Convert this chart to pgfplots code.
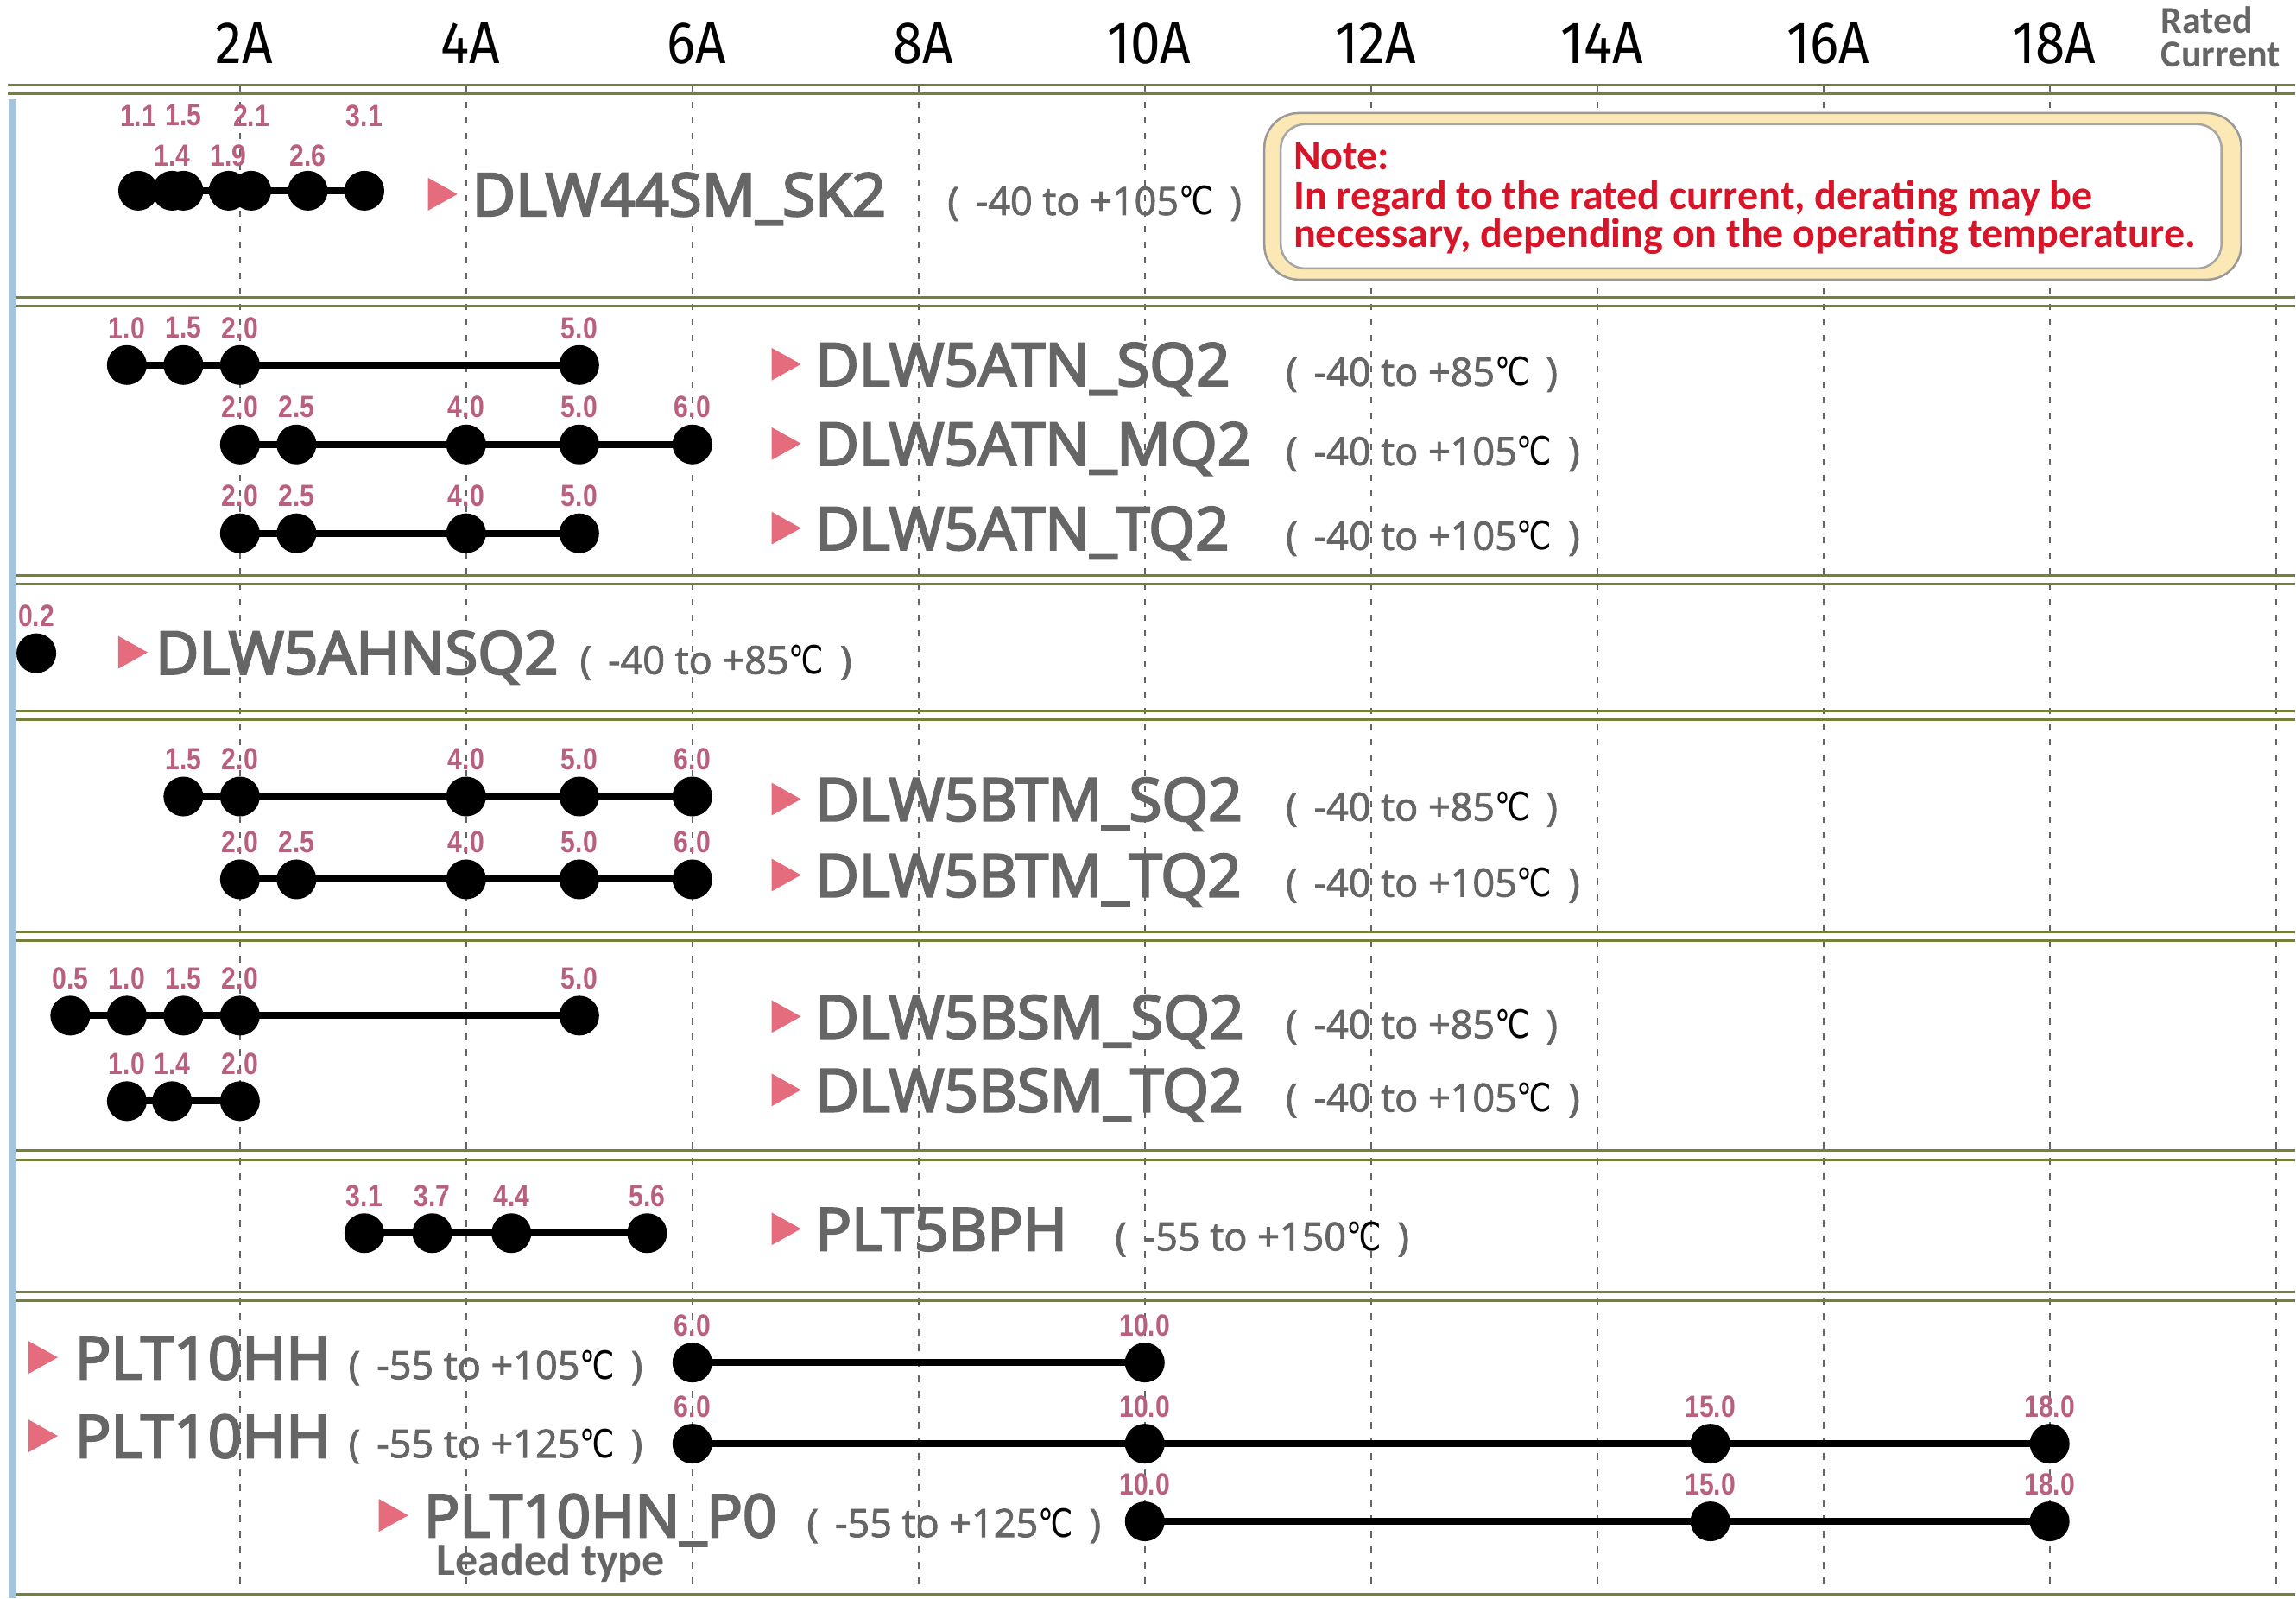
\documentclass[border=0pt]{standalone}
\usepackage{pgfplots}
\pgfplotsset{compat=1.18}
\usepackage{graphicx}
\usepackage{fontspec}
\setmainfont{Open Sans}
\newfontfamily\namefont{Open Sans}[FakeBold=3.5, FakeStretch=1.01]
\newfontfamily\tempfont{Open Sans}[FakeBold=2]
\newfontfamily\lblfont{Liberation Sans}[FakeStretch=0.85]
\newfontfamily\tickfont{Fira Sans}[FakeStretch=0.9]
\newfontfamily\notefont{Carlito}
\newfontfamily\dejavu{DejaVu Sans}

\definecolor{namec}{RGB}{102,102,102}
\definecolor{lblc}{RGB}{184,96,126}
\definecolor{tric}{RGB}{229,108,125}
\definecolor{notered}{RGB}{215,20,40}
\definecolor{linegreen}{RGB}{118,128,58}
\definecolor{barblue}{RGB}{167,196,218}
\definecolor{gridc}{RGB}{100,100,100}
\definecolor{notefill}{RGB}{252,232,180}

% 1 px of the reference = 0.1pt
\newcommand\degc{{\color{black}\scalebox{0.8}[1]{\dejavu ℃}}}
\newcommand\tempr[3]{\node[anchor=base west,inner sep=0pt,text=namec,
  font=\tempfont\fontsize{4.5pt}{5pt}\selectfont] at (axis cs:#1,#2) {(\, #3\degc\, )};}
\newcommand\partlbl[4]{%
  \fill[tric] (axis cs:#1,#3-44) -- (axis cs:#1+0.26,#3-25) -- (axis cs:#1,#3-6) -- cycle;
  \node[anchor=base west,inner sep=0pt,text=namec,
    font=\namefont\fontsize{6.85pt}{7pt}\selectfont] at (axis cs:#2,#3) {#4};}

\begin{document}
\begin{tikzpicture}
\begin{axis}[
  width=265.9pt, height=185.2pt, scale only axis,
  xmin=-0.1213, xmax=20.167, ymin=0, ymax=1852, y dir=reverse,
  hide axis, clip=false,
  /pgf/number format/assume math mode=true,
  every node near coord/.append style={font=\lblfont\bfseries\fontsize{3.55pt}{4pt}\selectfont,
    text=lblc, anchor=center, inner sep=0pt},
  row/.style={black, line width=0.8pt, mark=*, mark size=1.9pt,
    mark options={fill=black, solid}, point meta=x,
    nodes near coords={\pgfmathprintnumber[fixed,fixed zerofill,precision=1]{\pgfplotspointmeta}},
    nodes near coords style={yshift=4.3pt}},
  lbls/.style={draw=none, mark=none, point meta=x,
    nodes near coords={\pgfmathprintnumber[fixed,fixed zerofill,precision=1]{\pgfplotspointmeta}},
    nodes near coords style={yshift=#1}},
]
\path (axis cs:-0.1213,0) rectangle (axis cs:20.167,1852);

% blue bar and grid
\fill[barblue] (axis cs:-0.048,115) rectangle (axis cs:0.024,1852);
\pgfplotsinvokeforeach{2,4,...,20}{
  \draw[gridc, line width=0.2pt, dash pattern=on 0.75pt off 1.05pt] (axis cs:#1,100) -- (axis cs:#1,1847);
}
% section rules
\draw[linegreen, line width=0.3pt] (axis cs:-0.053,99) -- (axis cs:20.167,99);
\draw[linegreen, line width=0.3pt] (axis cs:-0.053,109) -- (axis cs:20.167,109);
\pgfplotsinvokeforeach{345,355,667,677,824,834,1080,1090,1333,1344,1497,1507,1847}{
  \draw[linegreen, line width=0.3pt] (axis cs:0.024,#1) -- (axis cs:20.167,#1);
}

% tick labels
\pgfplotsinvokeforeach{2,4,...,18}{
  \node[anchor=base, inner sep=0pt, font=\tickfont\fontsize{6.9pt}{7pt}\selectfont] at (axis cs:#1+0.04,74) {#1A};
}
\node[anchor=base west, inner sep=0pt, text=namec, font=\notefont\bfseries\fontsize{4.4pt}{5pt}\selectfont] at (axis cs:18.97,38) {Rated};
\node[anchor=base west, inner sep=0pt, text=namec, font=\notefont\bfseries\fontsize{4.4pt}{5pt}\selectfont] at (axis cs:18.97,78) {Current};

% note box
\draw[gray!80, line width=0.25pt, fill=notefill, rounded corners=4pt] (axis cs:11.057,131) rectangle (axis cs:19.694,324);
\draw[gray!70, line width=0.25pt, fill=white, rounded corners=2.8pt] (axis cs:11.202,144) rectangle (axis cs:19.519,311);
\node[anchor=base west, inner sep=0pt, text=notered, font=\notefont\bfseries\fontsize{4.8pt}{5pt}\selectfont] at (axis cs:11.301,197) {Note:};
\node[anchor=base west, inner sep=0pt, text=notered, font=\notefont\bfseries\fontsize{4.8pt}{5pt}\selectfont] at (axis cs:11.301,243) {In regard to the rated current, derating may be};
\node[anchor=base west, inner sep=0pt, text=notered, font=\notefont\bfseries\fontsize{4.8pt}{5pt}\selectfont] at (axis cs:11.301,287) {necessary, depending on the operating temperature.};

% DLW44SM_SK2
\addplot[black, line width=0.8pt, mark=*, mark size=1.9pt, mark options={fill=black}]
  coordinates {(1.1,221) (1.4,221) (1.5,221) (1.9,221) (2.1,221) (2.6,221) (3.1,221)};
\addplot[lbls=8.7pt] coordinates {(1.1,221) (1.5,221) (2.1,221) (3.1,221)};
\addplot[lbls=4.1pt] coordinates {(1.4,221) (1.9,221) (2.6,221)};
% DLW5ATN
\addplot[row] coordinates {(1.0,423) (1.5,423) (2.0,423) (5.0,423)};
\addplot[row] coordinates {(2.0,515) (2.5,515) (4.0,515) (5.0,515) (6.0,515)};
\addplot[row] coordinates {(2.0,618) (2.5,618) (4.0,618) (5.0,618)};
% DLW5AHNSQ2
\addplot[row] coordinates {(0.2,757)};
% DLW5BTM
\addplot[row] coordinates {(1.5,923) (2.0,923) (4.0,923) (5.0,923) (6.0,923)};
\addplot[row] coordinates {(2.0,1019) (2.5,1019) (4.0,1019) (5.0,1019) (6.0,1019)};
% DLW5BSM
\addplot[row] coordinates {(0.5,1177) (1.0,1177) (1.5,1177) (2.0,1177) (5.0,1177)};
\addplot[row] coordinates {(1.0,1276) (1.4,1276) (2.0,1276)};
% PLT5BPH
\addplot[row] coordinates {(3.1,1429) (3.7,1429) (4.4,1429) (5.6,1429)};
% PLT10HH / PLT10HN_P0
\addplot[row] coordinates {(6.0,1579) (10.0,1579)};
\addplot[row] coordinates {(6.0,1673) (10.0,1673) (15.0,1673) (18.0,1673)};
\addplot[row] coordinates {(10.0,1763) (15.0,1763) (18.0,1763)};

% part names and temperature ranges
\partlbl{3.663}{4.037}{250}{DLW44SM\_SK2}
\tempr{8.241}{249}{-40 to +105}
\partlbl{6.700}{7.074}{447}{DLW5ATN\_SQ2}
\tempr{11.232}{447}{-40 to +85}
\partlbl{6.700}{7.074}{539}{DLW5ATN\_MQ2}
\tempr{11.232}{539}{-40 to +105}
\partlbl{6.700}{7.074}{637}{DLW5ATN\_TQ2}
\tempr{11.232}{637}{-40 to +105}
\partlbl{0.924}{1.237}{781}{DLW5AHNSQ2}
\tempr{4.991}{781}{-40 to +85}
\partlbl{6.700}{7.074}{951}{DLW5BTM\_SQ2}
\tempr{11.232}{951}{-40 to +85}
\partlbl{6.700}{7.074}{1039}{DLW5BTM\_TQ2}
\tempr{11.232}{1039}{-40 to +105}
\partlbl{6.700}{7.074}{1203}{DLW5BSM\_SQ2}
\tempr{11.232}{1203}{-40 to +85}
\partlbl{6.700}{7.074}{1288}{DLW5BSM\_TQ2}
\tempr{11.232}{1288}{-40 to +105}
\partlbl{6.700}{7.074}{1449}{PLT5BPH}
\tempr{9.722}{1449}{-55 to +150}
\partlbl{0.130}{0.527}{1598}{PLT10HH}
\tempr{2.946}{1598}{-55 to +105}
\partlbl{0.130}{0.527}{1689}{PLT10HH}
\tempr{2.946}{1689}{-55 to +125}
\partlbl{3.228}{3.610}{1781}{PLT10HN\_P0}
\tempr{6.998}{1781}{-55 to +125}
\node[anchor=base west, inner sep=0pt, text=namec, font=\notefont\bfseries\fontsize{5.2pt}{6pt}\selectfont] at (axis cs:3.724,1825) {Leaded type};
\end{axis}
\end{tikzpicture}
\end{document}
